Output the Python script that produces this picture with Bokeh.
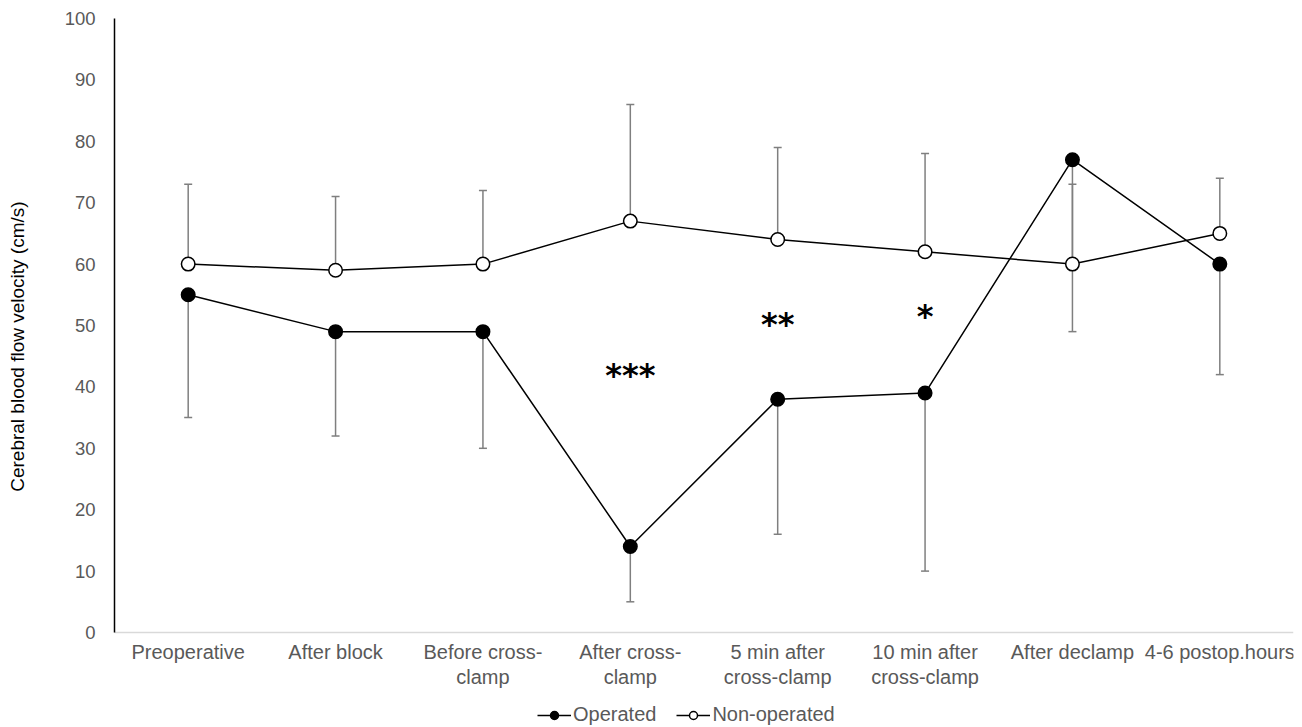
from bokeh.plotting import figure
from bokeh.models import (ColumnDataSource, FixedTicker, Legend, LegendItem, Range1d)
from bokeh.core.properties import value
from bokeh.embed import file_html
from bokeh.resources import INLINE

categories = ["Preoperative", "After block", "Before cross-\nclamp", "After cross-\nclamp",
              "5 min after\ncross-clamp", "10 min after\ncross-clamp", "After declamp", "4-6 postop.hours"]
operated = [55, 49, 49, 14, 38, 39, 77, 60]
operated_low = [35, 32, 30, 5, 16, 10, 49, 42]
nonoperated = [60, 59, 60, 67, 64, 62, 60, 65]
nonoperated_high = [73, 71, 72, 86, 79, 78, 73, 74]
star_labels = ["***", "**", "*"]
star_pos = [3, 4, 5]
star_y = [41.9, 50.2, 51.6]

x = list(range(len(categories)))
FONT = "Liberation Sans"
GRAY = "#595959"

# layout: frame spans the full lower area so the category labels and legend sit inside it
W, H = 1302, 727
TOP, LEFT, RIGHT = 18, 114, 9
PX_PER_UNIT = 6.14
frame_h = H - TOP
y_start = 100 - frame_h / PX_PER_UNIT
label_y = -8 / PX_PER_UNIT

p = figure(width=W, height=H, output_backend="svg", toolbar_location=None,
           x_range=Range1d(-0.5, 7.5), y_range=Range1d(y_start, 100),
           x_axis_location=None,
           min_border_left=LEFT, min_border_right=RIGHT, min_border_top=TOP, min_border_bottom=0)
p.outline_line_color = None
p.grid.visible = False

src_op = ColumnDataSource(dict(x=x, y=operated, lo=operated_low))
src_no = ColumnDataSource(dict(x=x, y=nonoperated, hi=nonoperated_high))

# category axis baseline at y = 0
p.segment(x0=[-0.5], y0=[0], x1=[7.5], y1=[0], line_color="#d9d9d9", line_width=1.5)

# error bars
p.segment(x0="x", y0="lo", x1="x", y1="y", source=src_op, line_color="#7f7f7f", line_width=1.5)
p.scatter(x="x", y="lo", source=src_op, marker="dash", size=8, line_color="#7f7f7f", line_width=1.5)
p.segment(x0="x", y0="y", x1="x", y1="hi", source=src_no, line_color="#7f7f7f", line_width=1.5)
p.scatter(x="x", y="hi", source=src_no, marker="dash", size=8, line_color="#7f7f7f", line_width=1.5)

l_op = p.line(x="x", y="y", source=src_op, line_color="black", line_width=1.5)
s_op = p.scatter(x="x", y="y", source=src_op, size=13.5, fill_color="black", line_color="black", line_width=1.5)
l_no = p.line(x="x", y="y", source=src_no, line_color="black", line_width=1.5)
s_no = p.scatter(x="x", y="y", source=src_no, size=13.5, fill_color="white", line_color="black", line_width=1.5)

p.text(x=star_pos, y=star_y, text=star_labels, text_font=value("DejaVu Sans"), text_font_size="32px",
       text_font_style="bold", text_align="center", text_baseline="middle", text_color="black")

# category labels
p.text(x=x, y=[label_y] * len(x), text=categories, text_font=value(FONT), text_font_size="20px",
       text_color=GRAY, text_align="center", text_baseline="top", text_line_height=1.15)

# y axis
p.yaxis.ticker = FixedTicker(ticks=list(range(0, 101, 10)))
p.yaxis.bounds = (0, 100)
p.yaxis.axis_line_color = "black"
p.yaxis.axis_line_width = 1.5
p.yaxis.major_tick_line_color = None
p.yaxis.minor_tick_line_color = None
p.yaxis.major_label_text_font = FONT
p.yaxis.major_label_text_font_size = "18.5px"
p.yaxis.major_label_text_color = GRAY
p.yaxis.major_label_standoff = 13
p.yaxis.axis_label = "\u00a0" * 10 + "Cerebral blood flow velocity (cm/s)"
p.yaxis.axis_label_text_font = FONT
p.yaxis.axis_label_text_font_size = "19px"
p.yaxis.axis_label_text_font_style = "normal"
p.yaxis.axis_label_text_color = "black"
p.yaxis.axis_label_standoff = 34

legend = Legend(items=[LegendItem(label="Operated", renderers=[l_op, s_op]),
                       LegendItem(label="Non-operated", renderers=[l_no, s_no])],
                orientation="horizontal", location=(423, 1))
legend.label_text_font = FONT
legend.label_text_font_size = "20px"
legend.label_text_color = GRAY
legend.border_line_color = None
legend.background_fill_alpha = 0
legend.glyph_width = 34
legend.glyph_height = 20
legend.label_standoff = 2
legend.spacing = 20
legend.padding = 0
legend.margin = 0
p.add_layout(legend, "center")

open("out.html", "w").write(file_html(p, INLINE))
